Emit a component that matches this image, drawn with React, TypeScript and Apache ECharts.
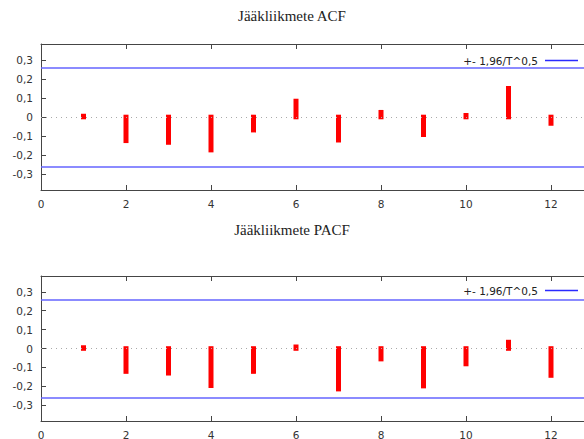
import React, { useEffect, useRef } from "react";
import * as echarts from "echarts";

const lags = [1, 2, 3, 4, 5, 6, 7, 8, 9, 10, 11, 12];
const acfValues = [0.005, -0.125, -0.134, -0.174, -0.069, 0.084, -0.122, 0.025, -0.093, 0.009, 0.151, -0.034];
const pacfValues = [0.005, -0.122, -0.131, -0.197, -0.122, 0.009, -0.215, -0.056, -0.199, -0.082, 0.034, -0.143];
const bound = 0.26;
const xTicks = [0, 2, 4, 6, 8, 10, 12];
const yTicks = [-0.3, -0.2, -0.1, 0, 0.1, 0.2, 0.3];
const titles = ["Jääkliikmete ACF", "Jääkliikmete PACF"];
const legendName = "+- 1,96/T^0,5";

const AXIS_COLOR = "#454545";
const LABEL_FONT = { fontFamily: "DejaVu Sans", fontSize: 10.5, color: "#333" };

function fmtY(v: number) {
  if (Math.abs(v) < 1e-9) return "0";
  return String(Math.round(v * 10) / 10).replace(".", ",");
}

export default function App() {
  const ref = useRef<HTMLDivElement>(null);
  useEffect(() => {
    if (!ref.current) return;
    const chart = echarts.init(ref.current, null, { renderer: "svg" });
    const grids = [
      { left: 41, top: 44, width: 552.5, height: 146, outerBoundsMode: "none", containLabel: false },
      { left: 41, top: 276, width: 552.5, height: 145, outerBoundsMode: "none", containLabel: false },
    ];
    const xAxes: any[] = [];
    const yAxes: any[] = [];
    const series: any[] = [];
    const datasets = [acfValues, pacfValues];
    grids.forEach((_, gi) => {
      xAxes.push({
        gridIndex: gi,
        type: "value",
        min: 0,
        max: 13,
        position: "bottom",
        axisLine: { show: true, onZero: false, lineStyle: { color: AXIS_COLOR, width: 1 } },
        axisTick: { show: true, inside: true, length: 5, customValues: xTicks, lineStyle: { color: AXIS_COLOR } },
        axisLabel: { show: true, customValues: xTicks, margin: 8, ...LABEL_FONT },
        splitLine: { show: false },
      });
      xAxes.push({
        gridIndex: gi,
        type: "value",
        min: 0,
        max: 13,
        position: "top",
        axisLine: { show: true, onZero: false, lineStyle: { color: AXIS_COLOR, width: 1 } },
        axisTick: { show: true, inside: true, length: 5, customValues: xTicks, lineStyle: { color: AXIS_COLOR } },
        axisLabel: { show: false },
        splitLine: { show: false },
      });
      yAxes.push({
        gridIndex: gi,
        type: "value",
        min: -0.384,
        max: 0.384,
        axisLine: { show: true, onZero: false, lineStyle: { color: AXIS_COLOR, width: 1 } },
        axisTick: { show: true, inside: true, length: 5, customValues: yTicks, lineStyle: { color: AXIS_COLOR } },
        axisLabel: { show: true, customValues: yTicks, margin: 8, formatter: fmtY, ...LABEL_FONT },
        splitLine: { show: false },
      });
      series.push({
        type: "line",
        name: legendName,
        xAxisIndex: gi * 2,
        yAxisIndex: gi,
        data: [],
        symbol: "none",
        z: 2,
        lineStyle: { color: "#2a2aff", width: 1.3 },
        itemStyle: { color: "#2a2aff" },
        markLine: {
          silent: true,
          symbol: "none",
          label: { show: false },
          data: [
            { yAxis: bound, lineStyle: { color: "#6464ff", width: 1.6, type: "solid" } },
            { yAxis: -bound, lineStyle: { color: "#6464ff", width: 1.6, type: "solid" } },
            { yAxis: 0, lineStyle: { color: "#aaaaaa", width: 1, type: [1, 4] } },
          ],
        },
      });
      series.push({
        type: "custom",
        name: titles[gi],
        xAxisIndex: gi * 2,
        yAxisIndex: gi,
        z: 3,
        clip: true,
        data: lags.map((l, i) => [l, datasets[gi][i]]),
        renderItem: (params: any, api: any) => {
          const x = api.value(0);
          const v = api.value(1);
          const p0 = api.coord([x, 0]);
          const p1 = api.coord([x, v]);
          const cap = 2.3;
          const yTop = Math.min(p0[1], p1[1]) - cap;
          const yBot = Math.max(p0[1], p1[1]) + cap;
          const w = 5;
          return {
            type: "rect",
            shape: { x: p0[0] - w / 2, y: yTop, width: w, height: yBot - yTop },
            style: { fill: "#ff0000" },
          };
        },
      });
    });
    const legendBase = {
      data: [legendName],
      right: 1,
      align: "right",
      icon: "rect",
      itemWidth: 33,
      itemHeight: 1.4,
      itemGap: 5,
      itemStyle: { color: "#2a2aff", borderWidth: 0 },
      textStyle: { ...LABEL_FONT, color: "#222", padding: [0, 2, 0, 0] },
      selectedMode: false,
    };
    const titleStyle = { fontFamily: "Liberation Serif", fontSize: 15, fontWeight: "normal", color: "#222" };
    chart.setOption({
      animation: false,
      backgroundColor: "#ffffff",
      title: [
        { text: titles[0], left: "center", top: 3, textStyle: titleStyle },
        { text: titles[1], left: "center", top: 217, textStyle: titleStyle },
      ],
      legend: [
        { ...legendBase, top: 50 },
        { ...legendBase, top: 280 },
      ],
      grid: grids,
      xAxis: xAxes,
      yAxis: yAxes,
      series,
    });
    return () => chart.dispose();
  }, []);
  return (
    <div
      ref={ref}
      style={{ position: "fixed", left: 0, top: 0, width: 584, height: 439, background: "#fff" }}
    />
  );
}
